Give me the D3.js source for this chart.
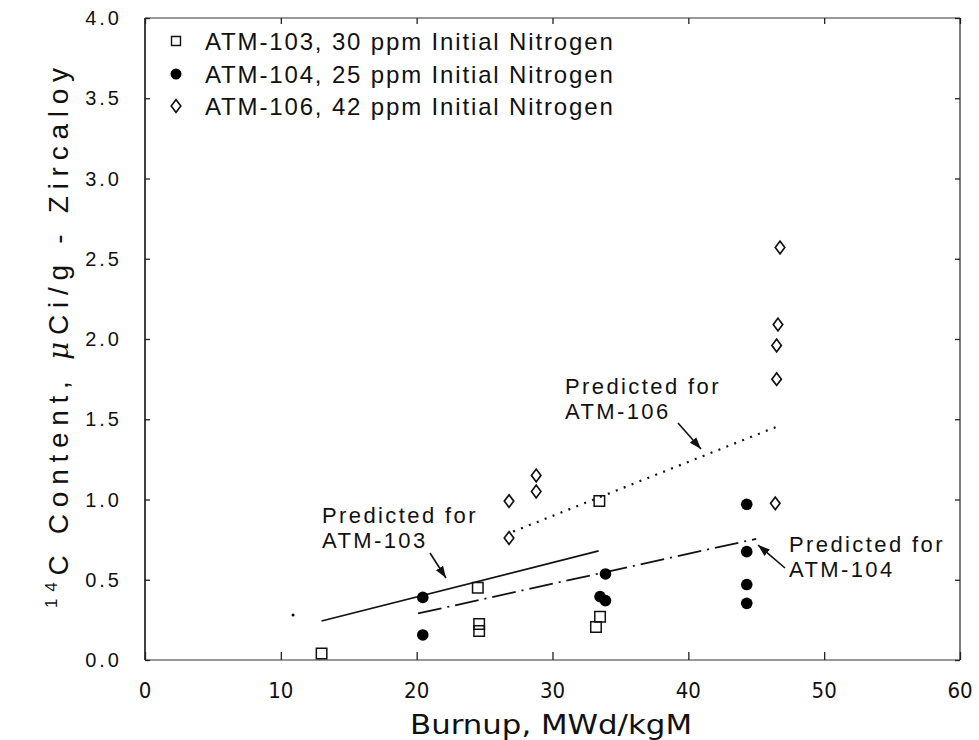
<!DOCTYPE html>
<html><head><meta charset="utf-8">
<script src="https://cdn.jsdelivr.net/npm/d3@7"></script>
<style>
body{margin:0;background:#fff;}
text{font-family:"Liberation Sans",Arial,sans-serif;fill:#111;}
</style></head>
<body><svg id="c" width="979" height="740"></svg>
<script>
// ---- data ----
const xTicks = [0,10,20,30,40,50,60];
const yTicks = [0,0.5,1,1.5,2,2.5,3,3.5,4];
const atm103 = [[13.0,0.04],[24.5,0.45],[24.6,0.225],[24.6,0.18],[33.45,0.99],[33.5,0.27],[33.2,0.205]];
const atm104 = [[20.45,0.39],[20.45,0.156],[33.9,0.536],[33.5,0.395],[33.9,0.37],[44.3,0.97],[44.3,0.675],[44.3,0.47],[44.3,0.353]];
const atm106 = [[26.8,0.76],[26.8,0.99],[28.8,1.15],[28.8,1.05],[46.4,0.976],[46.5,1.75],[46.5,1.96],[46.6,2.09],[46.75,2.57]];
const pred103 = [[13.0,0.243],[33.4,0.68]];
const pred104 = [[20.1,0.29],[45.0,0.755]];
const pred106 = [[27.1,0.80],[46.7,1.46]];
const strayMarks = [[10.9,0.28]];
const legendLabels = ["ATM-103, 30 ppm Initial Nitrogen","ATM-104, 25 ppm Initial Nitrogen","ATM-106, 42 ppm Initial Nitrogen"];

const svg = d3.select("#c");
const L=145,R=960,T=18,B=660;
const x = d3.scaleLinear().domain([0,60]).range([L,R]);
const y = d3.scaleLinear().domain([0,4]).range([B,T]);

// frame
const g = svg.append("g");
g.append("line").attr("x1",L).attr("x2",L).attr("y1",T).attr("y2",B).attr("stroke","#111").attr("stroke-width",1.6);
g.append("line").attr("x1",R).attr("x2",R).attr("y1",T).attr("y2",B).attr("stroke","#222").attr("stroke-width",1.2);
g.append("line").attr("x1",L).attr("x2",R).attr("y1",T).attr("y2",T).attr("stroke","#333").attr("stroke-width",1);
g.append("line").attr("x1",L).attr("x2",R).attr("y1",B).attr("y2",B).attr("stroke","#333").attr("stroke-width",1);

// axes (inward ticks)
const fmtY = d3.format(".1f");
const xb = svg.append("g").attr("transform",`translate(0,${B})`).call(d3.axisTop(x).tickValues(xTicks).tickSize(8).tickFormat(""));
const xt = svg.append("g").attr("transform",`translate(0,${T})`).call(d3.axisBottom(x).tickValues(xTicks).tickSize(6).tickFormat(""));
const yl = svg.append("g").attr("transform",`translate(${L},0)`).call(d3.axisRight(y).tickValues(yTicks).tickSize(5).tickFormat(""));
const yr = svg.append("g").attr("transform",`translate(${R},0)`).call(d3.axisLeft(y).tickValues(yTicks).tickSize(5).tickFormat(""));
[xb,xt,yl,yr].forEach(a=>{a.select(".domain").remove();a.selectAll(".tick line").attr("stroke","#222").attr("stroke-width",1.3);});

// tick labels
svg.append("g").selectAll("text").data(xTicks).join("text")
  .attr("x",d=>x(d)).attr("y",698).attr("text-anchor","middle")
  .style("font-size","22px").style("font-family","'DejaVu Sans Condensed','Liberation Sans Narrow',sans-serif")
  .text(d=>d);
svg.append("g").selectAll("text").data(yTicks).join("text")
  .attr("x",122).attr("y",d=>y(d)+7).attr("text-anchor","end")
  .style("font-size","20px").style("letter-spacing","3px")
  .text(d=>fmtY(d));

// axis titles
svg.append("text").attr("x",551).attr("y",734).attr("text-anchor","middle")
  .style("font-size","26px").style("font-family","'DejaVu Sans Condensed','Liberation Sans Narrow',sans-serif")
  .attr("textLength",282).attr("lengthAdjust","spacingAndGlyphs")
  .text("Burnup, MWd/kgM");
const yt = svg.append("text").attr("transform","translate(68,338) rotate(-90)").attr("text-anchor","middle")
  .style("font-size","28px").attr("textLength",540).attr("lengthAdjust","spacing");
yt.append("tspan").attr("dy","-11").style("font-size","17px").text("14");
yt.append("tspan").attr("dy","11").text("C Content, ");
yt.append("tspan").style("font-family","'DejaVu Serif',serif").style("font-style","italic").text("\u03BC");
yt.append("tspan").text("Ci/g - Zircaloy");

// prediction lines
const line = d3.line().x(d=>x(d[0])).y(d=>y(d[1]));
svg.append("path").attr("d",line(pred103)).attr("fill","none").attr("stroke","#111").attr("stroke-width",1.8);
svg.append("path").attr("d",line(pred104)).attr("fill","none").attr("stroke","#111").attr("stroke-width",1.8).attr("stroke-dasharray","24,6,2,6");
svg.append("path").attr("d",line(pred106)).attr("fill","none").attr("stroke","#111").attr("stroke-width",2.2).attr("stroke-dasharray","2,6.5");

// markers
const sq = d3.symbol().type(d3.symbolSquare).size(110);
const di = d3.symbol().type(d3.symbolDiamond).size(46);
svg.append("g").selectAll("path").data(atm103).join("path")
  .attr("transform",d=>`translate(${x(d[0])},${y(d[1])})`).attr("d",sq())
  .attr("fill","none").attr("stroke","#111").attr("stroke-width",1.5);
svg.append("g").selectAll("circle").data(atm104).join("circle")
  .attr("cx",d=>x(d[0])).attr("cy",d=>y(d[1])).attr("r",5.8).attr("fill","#000");
svg.append("g").selectAll("path").data(atm106).join("path")
  .attr("transform",d=>`translate(${x(d[0])},${y(d[1])}) scale(1.3,1)`).attr("d",di())
  .attr("fill","none").attr("stroke","#111").attr("stroke-width",1.4);
svg.append("g").selectAll("circle").data(strayMarks).join("circle")
  .attr("cx",d=>x(d[0])).attr("cy",d=>y(d[1])).attr("r",1.5).attr("fill","#000");

// legend
const leg = svg.append("g");
const ly = [41,74,106];
leg.append("path").attr("transform",`translate(176,${ly[0]})`).attr("d",d3.symbol().type(d3.symbolSquare).size(80)()).attr("fill","none").attr("stroke","#111").attr("stroke-width",1.4);
leg.append("circle").attr("cx",176).attr("cy",ly[1]).attr("r",5.5).attr("fill","#000");
leg.append("path").attr("transform",`translate(176,${ly[2]}) scale(1.3,1)`).attr("d",di()).attr("fill","none").attr("stroke","#111").attr("stroke-width",1.4);
leg.selectAll("text").data(legendLabels).join("text")
  .attr("x",205).attr("y",(d,i)=>ly[i]+9).style("font-size","24px").style("letter-spacing","1.85px")
  .text(d=>d);

// annotations
const ann = [
  {lines:["Predicted for","ATM-103"],x:322,y:523,ax1:430,ay1:553,ax2:446,ay2:578},
  {lines:["Predicted for","ATM-106"],x:565,y:394,ax1:678,ay1:423,ax2:701,ay2:449},
  {lines:["Predicted for","ATM-104"],x:789,y:552,ax1:785,ay1:568,ax2:758,ay2:545}
];
svg.append("defs").append("marker").attr("id","ah").attr("viewBox","0 0 10 10").attr("refX",10).attr("refY",5)
  .attr("markerWidth",12).attr("markerHeight",12).attr("orient","auto").attr("markerUnits","userSpaceOnUse")
  .append("path").attr("d","M0,1.5 L10,5 L0,8.5 Z").attr("fill","#111");
ann.forEach(a=>{
  a.lines.forEach((s,i)=>svg.append("text").attr("x",a.x).attr("y",a.y+i*25)
    .style("font-size","22px").style("letter-spacing","2.4px").text(s));
  svg.append("line").attr("x1",a.ax1).attr("y1",a.ay1).attr("x2",a.ax2).attr("y2",a.ay2)
    .attr("stroke","#111").attr("stroke-width",1.6).attr("marker-end","url(#ah)");
});
</script></body></html>
